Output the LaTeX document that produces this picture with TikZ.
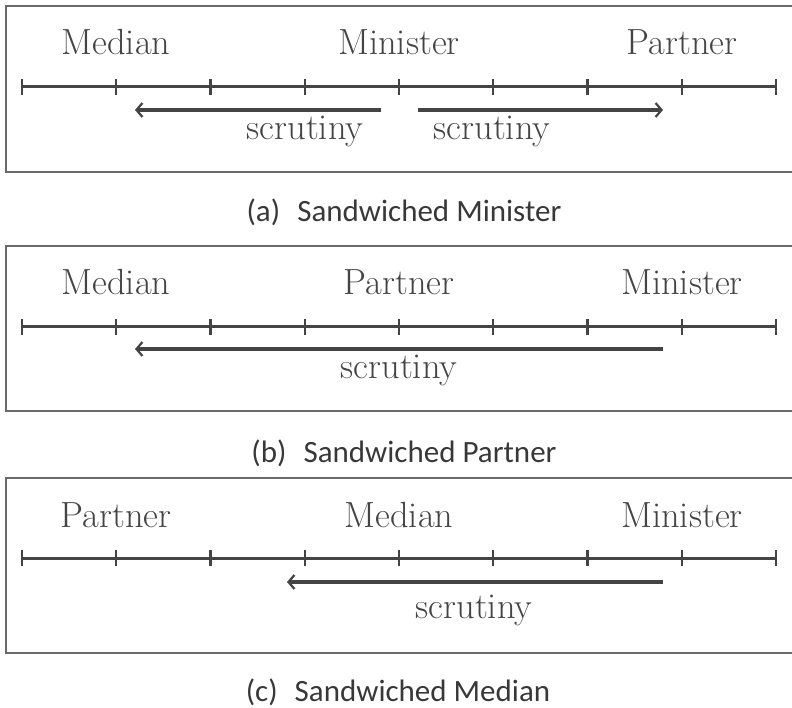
\documentclass[tikz,border=0pt]{standalone}
\usepackage{fontspec}
\newfontfamily\capfont{Carlito}
\usetikzlibrary{arrows.meta}
\definecolor{ink}{HTML}{444444}
\definecolor{frame}{HTML}{6A6A6A}
\tikzset{
  panel/.style={draw=frame, line width=1.5pt},
  axisline/.style={draw=ink, line width=3pt},
  tickmark/.style={draw=ink, line width=2.4pt},
  scrut/.style={draw=ink, line width=3.2pt, -{Straight Barb[length=6pt,width=14pt,line width=2.2pt]}},
  lab/.style={text=ink, font=\fontsize{36.4}{44}\selectfont, inner sep=0pt, anchor=base},
  captext/.style={text=black!78, font=\capfont\fontsize{31}{36}\selectfont, inner sep=0pt, anchor=base},
}
\begin{document}
\begin{tikzpicture}[x=1pt,y=-1pt]
\useasboundingbox (0,0) rectangle (792,708);
% panels
\draw[panel] (6,6) rectangle (810,172);
\draw[panel] (6,246) rectangle (810,411);
\draw[panel] (6,478) rectangle (810,653);
% axes
\foreach \y in {87,327,558}{
  \draw[axisline] (22,\y) -- (776,\y);
  \foreach \i in {0,...,8}{
    \draw[tickmark] ({22+94.25*\i},\y-8) -- ({22+94.25*\i},\y+8);
  }
}
% (a)
\node[lab] (a1) at (116,55) {Median};
\node[lab] (a2) at (399,55) {Minister};
\node[lab] (a3) at (682,55) {Partner};
\coordinate (aL0) at (381,110); \coordinate (aL1) at (135,110);
\coordinate (aR0) at (418,110); \coordinate (aR1) at (663,110);
\draw[scrut] (aL0) -- (aL1);
\draw[scrut] (aR0) -- (aR1);
\node[lab] (as1) at (305,140) {scrutiny};
\node[lab] (as2) at (492,140) {scrutiny};
\node[captext] (ca) at (404,222) {(a)\hspace{0.55em}Sandwiched Minister};
% (b)
\node[lab] (b1) at (116,295) {Median};
\node[lab] (b2) at (399,295) {Partner};
\node[lab] (b3) at (682,295) {Minister};
\coordinate (b0) at (663,349); \coordinate (b1e) at (135,349);
\draw[scrut] (b0) -- (b1e);
\node[lab] (bs) at (399,378) {scrutiny};
\node[captext] (cb) at (404,462) {(b)\hspace{0.55em}Sandwiched Partner};
% (c)
\node[lab] (c1) at (116,527) {Partner};
\node[lab] (c2) at (399,527) {Median};
\node[lab] (c3) at (682,527) {Minister};
\coordinate (c0) at (663,582); \coordinate (c1e) at (287,582);
\draw[scrut] (c0) -- (c1e);
\node[lab] (cs) at (474,618) {scrutiny};
\node[captext] (cc) at (398,701) {(c)\hspace{0.55em}Sandwiched Median};
\end{tikzpicture}
\end{document}
